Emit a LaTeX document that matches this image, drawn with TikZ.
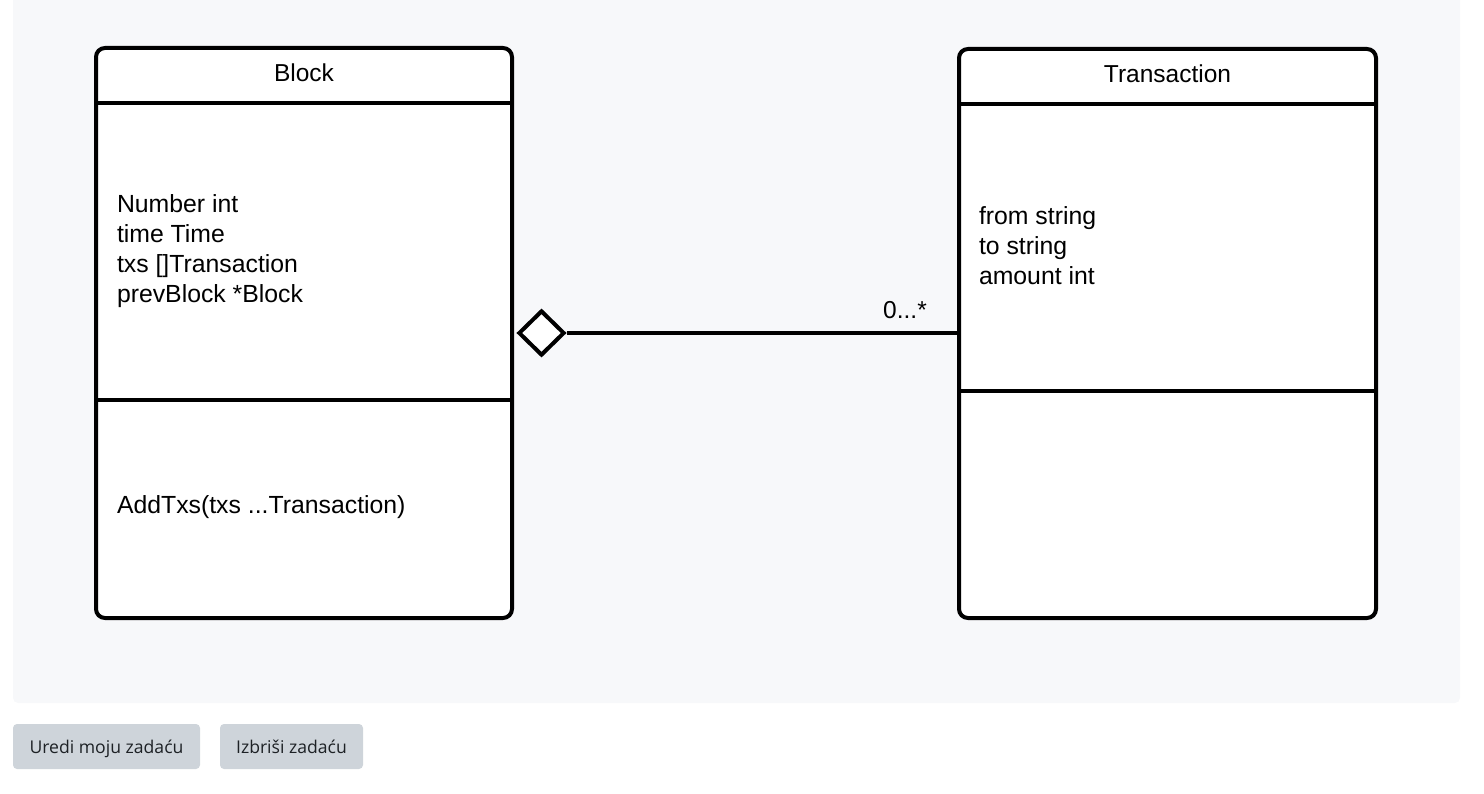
\documentclass[tikz,border=0pt]{standalone}
\usepackage{fontspec}
\setmainfont{Liberation Sans}
\newfontfamily\btnfont{Open Sans}
\usetikzlibrary{calc,positioning,shapes.geometric}
\definecolor{panelgray}{HTML}{F7F8FA}
\definecolor{btngray}{HTML}{CED4DA}
\definecolor{btntext}{HTML}{1D2125}
\tikzstyle{classbox}=[draw, line width=4pt, rounded corners=9pt, fill=white, minimum width=416pt, minimum height=570pt]
\tikzstyle{classtitle}=[inner sep=0pt, font=\fontsize{24.5}{30}\selectfont]
\tikzstyle{member}=[anchor=west, align=left, inner sep=0pt, font=\fontsize{24.8}{30}\selectfont]
\tikzstyle{aggr}=[draw, diamond, line width=4pt, fill=white, inner sep=0pt, minimum width=46pt, minimum height=45pt]
\tikzstyle{button}=[fill=btngray, rounded corners=4pt, minimum height=45pt, inner sep=0pt, text height=15.5pt, text depth=2.5pt, text=btntext, font=\btnfont\fontsize{17.6}{20}\selectfont]
\tikzset{%
    divider/.style={line width=4pt},
    assoc/.style={line width=4pt},
  }

\begin{document}
\begin{tikzpicture}[x=1pt, y=-1pt, line width=0mm]
    \useasboundingbox (0,0) rectangle (1484,794);
    \fill [panelgray, rounded corners=5pt] (13,-10) rectangle (1460,703);
    %
    \node (block) [classbox] at (304,333) {};
    \draw [divider] ($(block.north west)+(0,57)$) -- ($(block.north east)+(0,57)$);
    \draw [divider] ($(block.north west)+(0,354)$) -- ($(block.north east)+(0,354)$);
    \node (blocktitle) [classtitle] at ($(block.north)+(0,27)$) {Block};
    \node (blockattr) [member] at (117,251) {Number int\\time Time\\txs []Transaction\\prevBlock *Block};
    \node (blockops) [member] at (117,507) {AddTxs(txs ...Transaction)};
    %
    \node (txn) [classbox, minimum width=417pt, minimum height=569pt] at (1167.5,333.5) {};
    \draw [divider] ($(txn.north west)+(0,57)$) -- ($(txn.north east)+(0,57)$);
    \draw [divider] ($(txn.north west)+(0,344)$) -- ($(txn.north east)+(0,344)$);
    \node (txntitle) [classtitle] at ($(txn.north)+(0,27)$) {Transaction};
    \node (txnattr) [member] at (979,246) {from string\\to string\\amount int};
    %
    \node (agg) [aggr] at (541.5,333) {};
    \draw [assoc] (agg.east) -- (agg.east -| txn.west);
    \node (mult) [classtitle] at (905,310) {0...*};
    %
    \node (editbtn) [button, minimum width=187pt, anchor=west] at (13,746.5) {Uredi moju zadaću};
    \node (deletebtn) [button, minimum width=143pt, right=20pt of editbtn] {Izbriši zadaću};
\end{tikzpicture}
\end{document}
